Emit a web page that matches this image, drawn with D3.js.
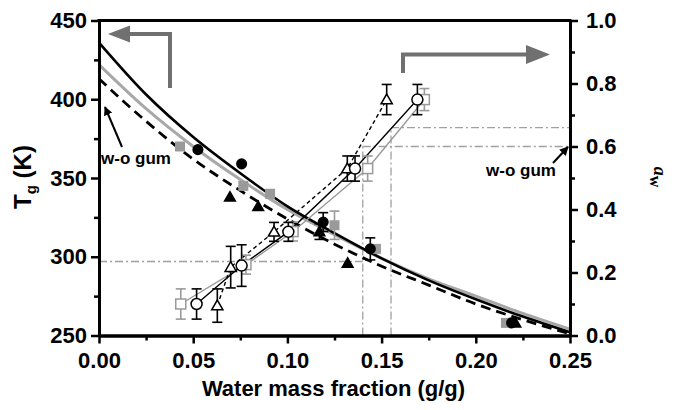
<!DOCTYPE html>
<html>
<head>
<meta charset="utf-8">
<script src="https://cdn.jsdelivr.net/npm/d3@7"></script>
<style>
body { margin: 0; background: #fff; }
text { font-family: "Liberation Sans", Arial, sans-serif; }
</style>
</head>
<body>
<svg id="chart" width="678" height="410"></svg>
<script>
// Tg curves (left axis)
const curveW   = [0, 0.025, 0.05, 0.075, 0.1, 0.125, 0.15, 0.175, 0.2, 0.225, 0.25];
const tgSolid  = [436, 403, 376, 353, 332, 315, 299, 285, 273, 262, 252];
const tgGray   = [422, 394, 370, 349, 330, 314, 299, 286, 275, 264, 254];
const tgDashed = [413, 386, 362, 342, 324, 308, 294, 282, 270, 260, 251];

// Tg data points
const tgCircW = [0.0525, 0.0757, 0.119, 0.144, 0.219];
const tgCircT = [368, 359, 322, 305, 258];
const tgCircE = [0, 0, 6, 7, 0];
const tgTriW  = [0.0695, 0.0845, 0.117, 0.132, 0.221];
const tgTriT  = [338, 332, 316, 296, 258];
const tgTriE  = [0, 0, 5, 0, 0];
const tgSqW   = [0.043, 0.0766, 0.0908, 0.125, 0.147, 0.216];
const tgSqT   = [370, 345, 340, 320, 305, 258];
const tgSqE   = [0, 0, 0, 9, 0, 2];

// water activity points (right axis)
const awCircW = [0.0518, 0.0757, 0.1005, 0.1359, 0.169];
const awCircA = [0.10, 0.222, 0.329, 0.53, 0.749];
const awCircE = [0.048, 0.066, 0.03, 0.04, 0.048];
const awTriW  = [0.0628, 0.0699, 0.0929, 0.1318, 0.1527];
const awTriA  = [0.095, 0.217, 0.329, 0.53, 0.749];
const awTriE  = [0.053, 0.066, 0.03, 0.04, 0.048];
const awSqW   = [0.0434, 0.078, 0.103, 0.1426, 0.1727];
const awSqA   = [0.10, 0.225, 0.33, 0.53, 0.749];
const awSqE   = [0.048, 0.03, 0.03, 0.04, 0.035];

// dash-dot guides
const guideTg = 297;
const guideW  = [0.14, 0.155];
const guideAw = [0.60, 0.66];

// ticks
const xTicks  = [0, 0.05, 0.1, 0.15, 0.2, 0.25];
const xMinor  = [0.025, 0.075, 0.125, 0.175, 0.225];
const yTicks  = [250, 300, 350, 400, 450];
const yMinor  = [275, 325, 375, 425];
const awTicks = [0, 0.2, 0.4, 0.6, 0.8, 1.0];
const awMinor = [0.1, 0.3, 0.5, 0.7, 0.9];

const svg = d3.select("#chart");
const L = 99, R = 570, T = 20.5, B = 335.5;

const x  = d3.scaleLinear().domain([0, 0.25]).range([L, R]);
const y  = d3.scaleLinear().domain([250, 450]).range([B, T]);
const ya = d3.scaleLinear().domain([0, 1]).range([B, T]);

const gray = "#9a9a9a";
const guide = "#a0a0a0";

// guides
const gg = svg.append("g")
    .attr("stroke", guide).attr("stroke-width", 1.3)
    .attr("stroke-dasharray", "8,3,2,3").attr("fill", "none");
gg.append("line").attr("x1", x(0)).attr("x2", x(guideW[0]))
    .attr("y1", y(guideTg)).attr("y2", y(guideTg));
guideW.forEach(function(w, i) {
    gg.append("line").attr("x1", x(w)).attr("x2", x(w))
        .attr("y1", B).attr("y2", ya(guideAw[i]));
    gg.append("line").attr("x1", x(w)).attr("x2", R)
        .attr("y1", ya(guideAw[i])).attr("y2", ya(guideAw[i]));
});

// Tg curves
function tgLine(vals) {
    return d3.line()
        .x(function(d, i) { return x(curveW[i]); })
        .y(function(d) { return y(d); })
        .curve(d3.curveMonotoneX)(vals);
}
svg.append("path").attr("d", tgLine(tgGray))
    .attr("fill", "none").attr("stroke", "#a8a8a8").attr("stroke-width", 3);
svg.append("path").attr("d", tgLine(tgSolid))
    .attr("fill", "none").attr("stroke", "#000").attr("stroke-width", 2.6);
svg.append("path").attr("d", tgLine(tgDashed))
    .attr("fill", "none").attr("stroke", "#000").attr("stroke-width", 2.8)
    .attr("stroke-dasharray", "10,6");

// aw lines
function awLine(ws, as) {
    return d3.line()
        .x(function(d, i) { return x(ws[i]); })
        .y(function(d) { return ya(d); })(as);
}
svg.append("path").attr("d", awLine(awSqW, awSqA))
    .attr("fill", "none").attr("stroke", gray).attr("stroke-width", 1.4);
svg.append("path").attr("d", awLine(awTriW, awTriA))
    .attr("fill", "none").attr("stroke", "#000").attr("stroke-width", 1.4)
    .attr("stroke-dasharray", "4,3");
svg.append("path").attr("d", awLine(awCircW, awCircA))
    .attr("fill", "none").attr("stroke", "#000").attr("stroke-width", 1.4);

// error bars
function errBars(ws, vs, es, sc, col) {
    const g = svg.append("g").attr("stroke", col).attr("stroke-width", 1.6);
    ws.forEach(function(w, i) {
        if (!es[i]) return;
        const cx = x(w), y1 = sc(vs[i] - es[i]), y2 = sc(vs[i] + es[i]);
        g.append("line").attr("x1", cx).attr("x2", cx).attr("y1", y1).attr("y2", y2);
        g.append("line").attr("x1", cx - 5).attr("x2", cx + 5).attr("y1", y1).attr("y2", y1);
        g.append("line").attr("x1", cx - 5).attr("x2", cx + 5).attr("y1", y2).attr("y2", y2);
    });
}
errBars(awSqW, awSqA, awSqE, ya, gray);
errBars(awTriW, awTriA, awTriE, ya, "#000");
errBars(awCircW, awCircA, awCircE, ya, "#000");
errBars(tgSqW, tgSqT, tgSqE, y, gray);
errBars(tgTriW, tgTriT, tgTriE, y, "#000");
errBars(tgCircW, tgCircT, tgCircE, y, "#000");

// markers
const tri = d3.symbol().type(d3.symbolTriangle);
function squares(ws, vs, sc, s, fill, stroke) {
    svg.append("g").selectAll("rect").data(ws).enter().append("rect")
        .attr("x", function(d) { return x(d) - s / 2; })
        .attr("y", function(d, i) { return sc(vs[i]) - s / 2; })
        .attr("width", s).attr("height", s)
        .attr("fill", fill).attr("stroke", stroke).attr("stroke-width", 1.5);
}
function circles(ws, vs, sc, r, fill) {
    svg.append("g").selectAll("circle").data(ws).enter().append("circle")
        .attr("cx", function(d) { return x(d); })
        .attr("cy", function(d, i) { return sc(vs[i]); })
        .attr("r", r).attr("fill", fill).attr("stroke", "#000").attr("stroke-width", 1.5);
}
function triangles(ws, vs, sc, size, fill) {
    svg.append("g").selectAll("path").data(ws).enter().append("path")
        .attr("d", tri.size(size))
        .attr("transform", function(d, i) { return "translate(" + x(d) + "," + (sc(vs[i]) + 1) + ")"; })
        .attr("fill", fill).attr("stroke", "#000").attr("stroke-width", 1.5);
}
squares(awSqW, awSqA, ya, 10, "#fff", gray);
triangles(awTriW, awTriA, ya, 55, "#fff");
circles(awCircW, awCircA, ya, 5.5, "#fff");
squares(tgSqW, tgSqT, y, 10, gray, "none");
triangles(tgTriW, tgTriT, y, 50, "#000");
circles(tgCircW, tgCircT, y, 4.8, "#000");

// axes
const fmtX = d3.format(".2f");
function styleAxis(g) {
    g.select(".domain").attr("stroke-width", 3);
    g.selectAll(".tick line").attr("stroke-width", 2.5);
    g.selectAll(".tick text").attr("font-size", 22).attr("font-weight", "bold")
        .attr("font-family", "'Liberation Sans', Arial, sans-serif").attr("fill", "#000");
}
svg.append("g").attr("transform", "translate(0," + B + ")")
    .call(d3.axisBottom(x).tickValues(xMinor).tickSize(5).tickFormat("").tickSizeOuter(0))
    .call(styleAxis);
svg.append("g").attr("transform", "translate(0," + B + ")")
    .call(d3.axisBottom(x).tickValues(xTicks).tickSize(8).tickPadding(9).tickFormat(fmtX).tickSizeOuter(0))
    .call(styleAxis);
svg.append("g").attr("transform", "translate(" + L + ",0)")
    .call(d3.axisLeft(y).tickValues(yMinor).tickSize(5).tickFormat("").tickSizeOuter(0))
    .call(styleAxis);
svg.append("g").attr("transform", "translate(" + L + ",0)")
    .call(d3.axisLeft(y).tickValues(yTicks).tickSize(8).tickPadding(4).tickSizeOuter(0))
    .call(styleAxis);
svg.append("g").attr("transform", "translate(" + R + ",0)")
    .call(d3.axisRight(ya).tickValues(awMinor).tickSize(5).tickFormat("").tickSizeOuter(0))
    .call(styleAxis);
svg.append("g").attr("transform", "translate(" + R + ",0)")
    .call(d3.axisRight(ya).tickValues(awTicks).tickSize(8).tickPadding(8).tickFormat(d3.format(".1f")).tickSizeOuter(0))
    .call(styleAxis);
svg.append("line").attr("x1", L - 1.5).attr("x2", R + 1.5).attr("y1", T).attr("y2", T)
    .attr("stroke", "#000").attr("stroke-width", 3);

// axis titles
svg.append("text").attr("x", (L + R) / 2 - 1).attr("y", 396)
    .attr("text-anchor", "middle").attr("font-size", 22).attr("font-weight", "bold")
    .text("Water mass fraction (g/g)");

const tg = svg.append("text").attr("transform", "translate(31,177) rotate(-90)")
    .attr("text-anchor", "middle").attr("font-size", 24).attr("font-weight", "bold");
tg.append("tspan").text("T");
tg.append("tspan").attr("font-size", 15).attr("dy", 5).text("g");
tg.append("tspan").attr("dy", -5).text(" (K)");

const aw = svg.append("text").attr("transform", "translate(654,177) rotate(90)")
    .attr("text-anchor", "middle").attr("font-weight", "bold")
    .attr("font-family", "'Liberation Serif', 'DejaVu Serif', serif");
aw.append("tspan").attr("font-size", 18).attr("font-style", "italic")
    .style("font-family", "'Liberation Serif', serif").text("a");
aw.append("tspan").attr("font-size", 16).attr("dy", 4)
    .style("font-family", "'Liberation Serif', serif").text("w");

// annotations: big gray arrows
const arrowGray = "#707070";
svg.append("path").attr("d", "M170,88 V34 H126")
    .attr("fill", "none").attr("stroke", arrowGray).attr("stroke-width", 4);
svg.append("path").attr("d", "M108,34 L130,25.5 L130,42.5 Z").attr("fill", arrowGray);
svg.append("path").attr("d", "M403,73 V54.5 H528")
    .attr("fill", "none").attr("stroke", arrowGray).attr("stroke-width", 4);
svg.append("path").attr("d", "M550,54.5 L526,45 L526,64 Z").attr("fill", arrowGray);

// w-o gum labels with small black arrows
svg.append("defs").append("marker").attr("id", "head")
    .attr("viewBox", "0 0 10 10").attr("refX", 9).attr("refY", 5)
    .attr("markerWidth", 4.5).attr("markerHeight", 4.5).attr("orient", "auto")
    .append("path").attr("d", "M0,0 L10,5 L0,10 Z").attr("fill", "#000");
svg.append("line").attr("x1", 122).attr("y1", 147).attr("x2", 105).attr("y2", 107)
    .attr("stroke", "#000").attr("stroke-width", 2).attr("marker-end", "url(#head)");
svg.append("text").attr("x", 101).attr("y", 164).attr("font-size", 17)
    .attr("font-weight", "bold").text("w-o gum");
svg.append("line").attr("x1", 553).attr("y1", 163).attr("x2", 568).attr("y2", 147)
    .attr("stroke", "#000").attr("stroke-width", 2).attr("marker-end", "url(#head)");
svg.append("text").attr("x", 486).attr("y", 176).attr("font-size", 17)
    .attr("font-weight", "bold").text("w-o gum");
</script>
</body>
</html>
